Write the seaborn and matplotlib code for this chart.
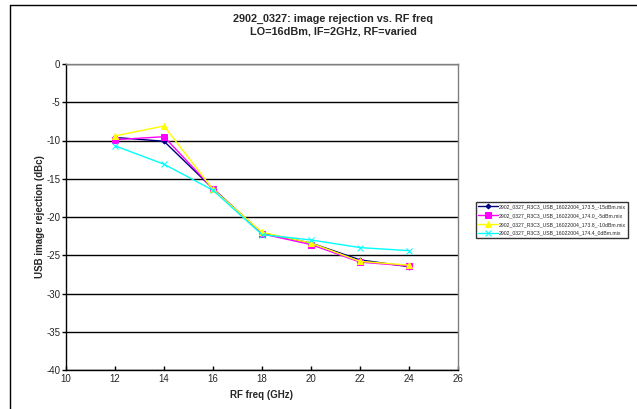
import numpy as np
import pandas as pd
import matplotlib
matplotlib.use("Agg")
import matplotlib.pyplot as plt
import seaborn as sns

sns.set_theme(style="white")
plt.rcParams['font.family'] = ['Liberation Sans', 'DejaVu Sans']
plt.rcParams['axes.unicode_minus'] = False

# data
rf_freq = [12, 14, 16, 18, 20, 22, 24]
mix_m15 = [-9.6, -10.1, -16.3, -22.1, -23.4, -25.6, -26.5]
mix_m5 = [-9.9, -9.5, -16.3, -22.2, -23.6, -25.9, -26.4]
mix_m10 = [-9.4, -8.1, -16.4, -22.0, -23.4, -25.8, -26.3]
mix_0 = [-10.7, -13.1, -16.5, -22.3, -23.0, -24.0, -24.4]

labels = ["2902_0327_R3C3_USB_16022004_173.5_-15dBm.mix",
          "2902_0327_R3C3_USB_16022004_174.0_-5dBm.mix",
          "2902_0327_R3C3_USB_16022004_173.8_-10dBm.mix",
          "2902_0327_R3C3_USB_16022004_174.4_0dBm.mix"]
series = [mix_m15, mix_m5, mix_m10, mix_0]
colors = ["#000080", "#ff00ff", "#ffff00", "#00ffff"]
markers = ["D", "s", "^", "x"]
msizes = [2.5, 5, 5, 5]

fig = plt.figure(figsize=(6.37, 4.09), dpi=100)
ax = fig.add_axes([66/637, 1-370/409, (458-66)/637, (370-64)/409])

for vals, lab, c, m, ms in zip(series, labels, colors, markers, msizes):
    df = pd.DataFrame({"rf": rf_freq, "rej": vals})
    sns.lineplot(data=df, x="rf", y="rej", ax=ax, color=c, marker=m,
                 markersize=ms, markeredgecolor=c, linewidth=1, label=lab)

ax.set_xlim(10, 26)
ax.set_ylim(-40, 0)
ax.set_xticks(np.arange(10, 27, 2))
ax.set_yticks(np.arange(-40, 1, 5))
ax.yaxis.grid(True, color="black", linewidth=1)
ax.set_axisbelow(True)
for s in ["top", "right"]:
    ax.spines[s].set_color("#808080")
for s in ["left", "bottom"]:
    ax.spines[s].set_color("black")
for s in ax.spines.values():
    s.set_linewidth(1)
ax.tick_params(axis="y", direction="out", length=3, width=1, color="black",
               labelsize=7, left=True, pad=1)
ax.tick_params(axis="x", direction="in", length=3, width=1, color="black",
               labelsize=7, bottom=True, pad=3)

ax.set_xlabel("RF freq (GHz)", fontsize=7, fontweight="bold", labelpad=4)
ax.set_ylabel("USB image rejection (dBc)", fontsize=7, fontweight="bold", labelpad=1)

leg = ax.legend(loc="upper left", bbox_to_anchor=(473/637, 1-199/409),
                bbox_transform=fig.transFigure, fontsize=3.7, frameon=True,
                fancybox=False, edgecolor="black", handlelength=3.8,
                borderpad=0.5, labelspacing=0.75, handletextpad=0.2)
leg.get_frame().set_linewidth(1)

fig.text(333/637, 1-19/409, "2902_0327: image rejection vs. RF freq",
         ha="center", va="center", fontsize=7.8, fontweight="bold")
fig.text(333/637, 1-32/409, "LO=16dBm, IF=2GHz, RF=varied",
         ha="center", va="center", fontsize=7.8, fontweight="bold")

# chart area border (top and left edges visible)
fig.add_artist(plt.Line2D([10/637, 1], [1-5/409, 1-5/409], color="black",
                          linewidth=1, transform=fig.transFigure))
fig.add_artist(plt.Line2D([10/637, 10/637], [0, 1-5/409], color="black",
                          linewidth=1, transform=fig.transFigure))

fig.savefig("out.png", dpi=100)
